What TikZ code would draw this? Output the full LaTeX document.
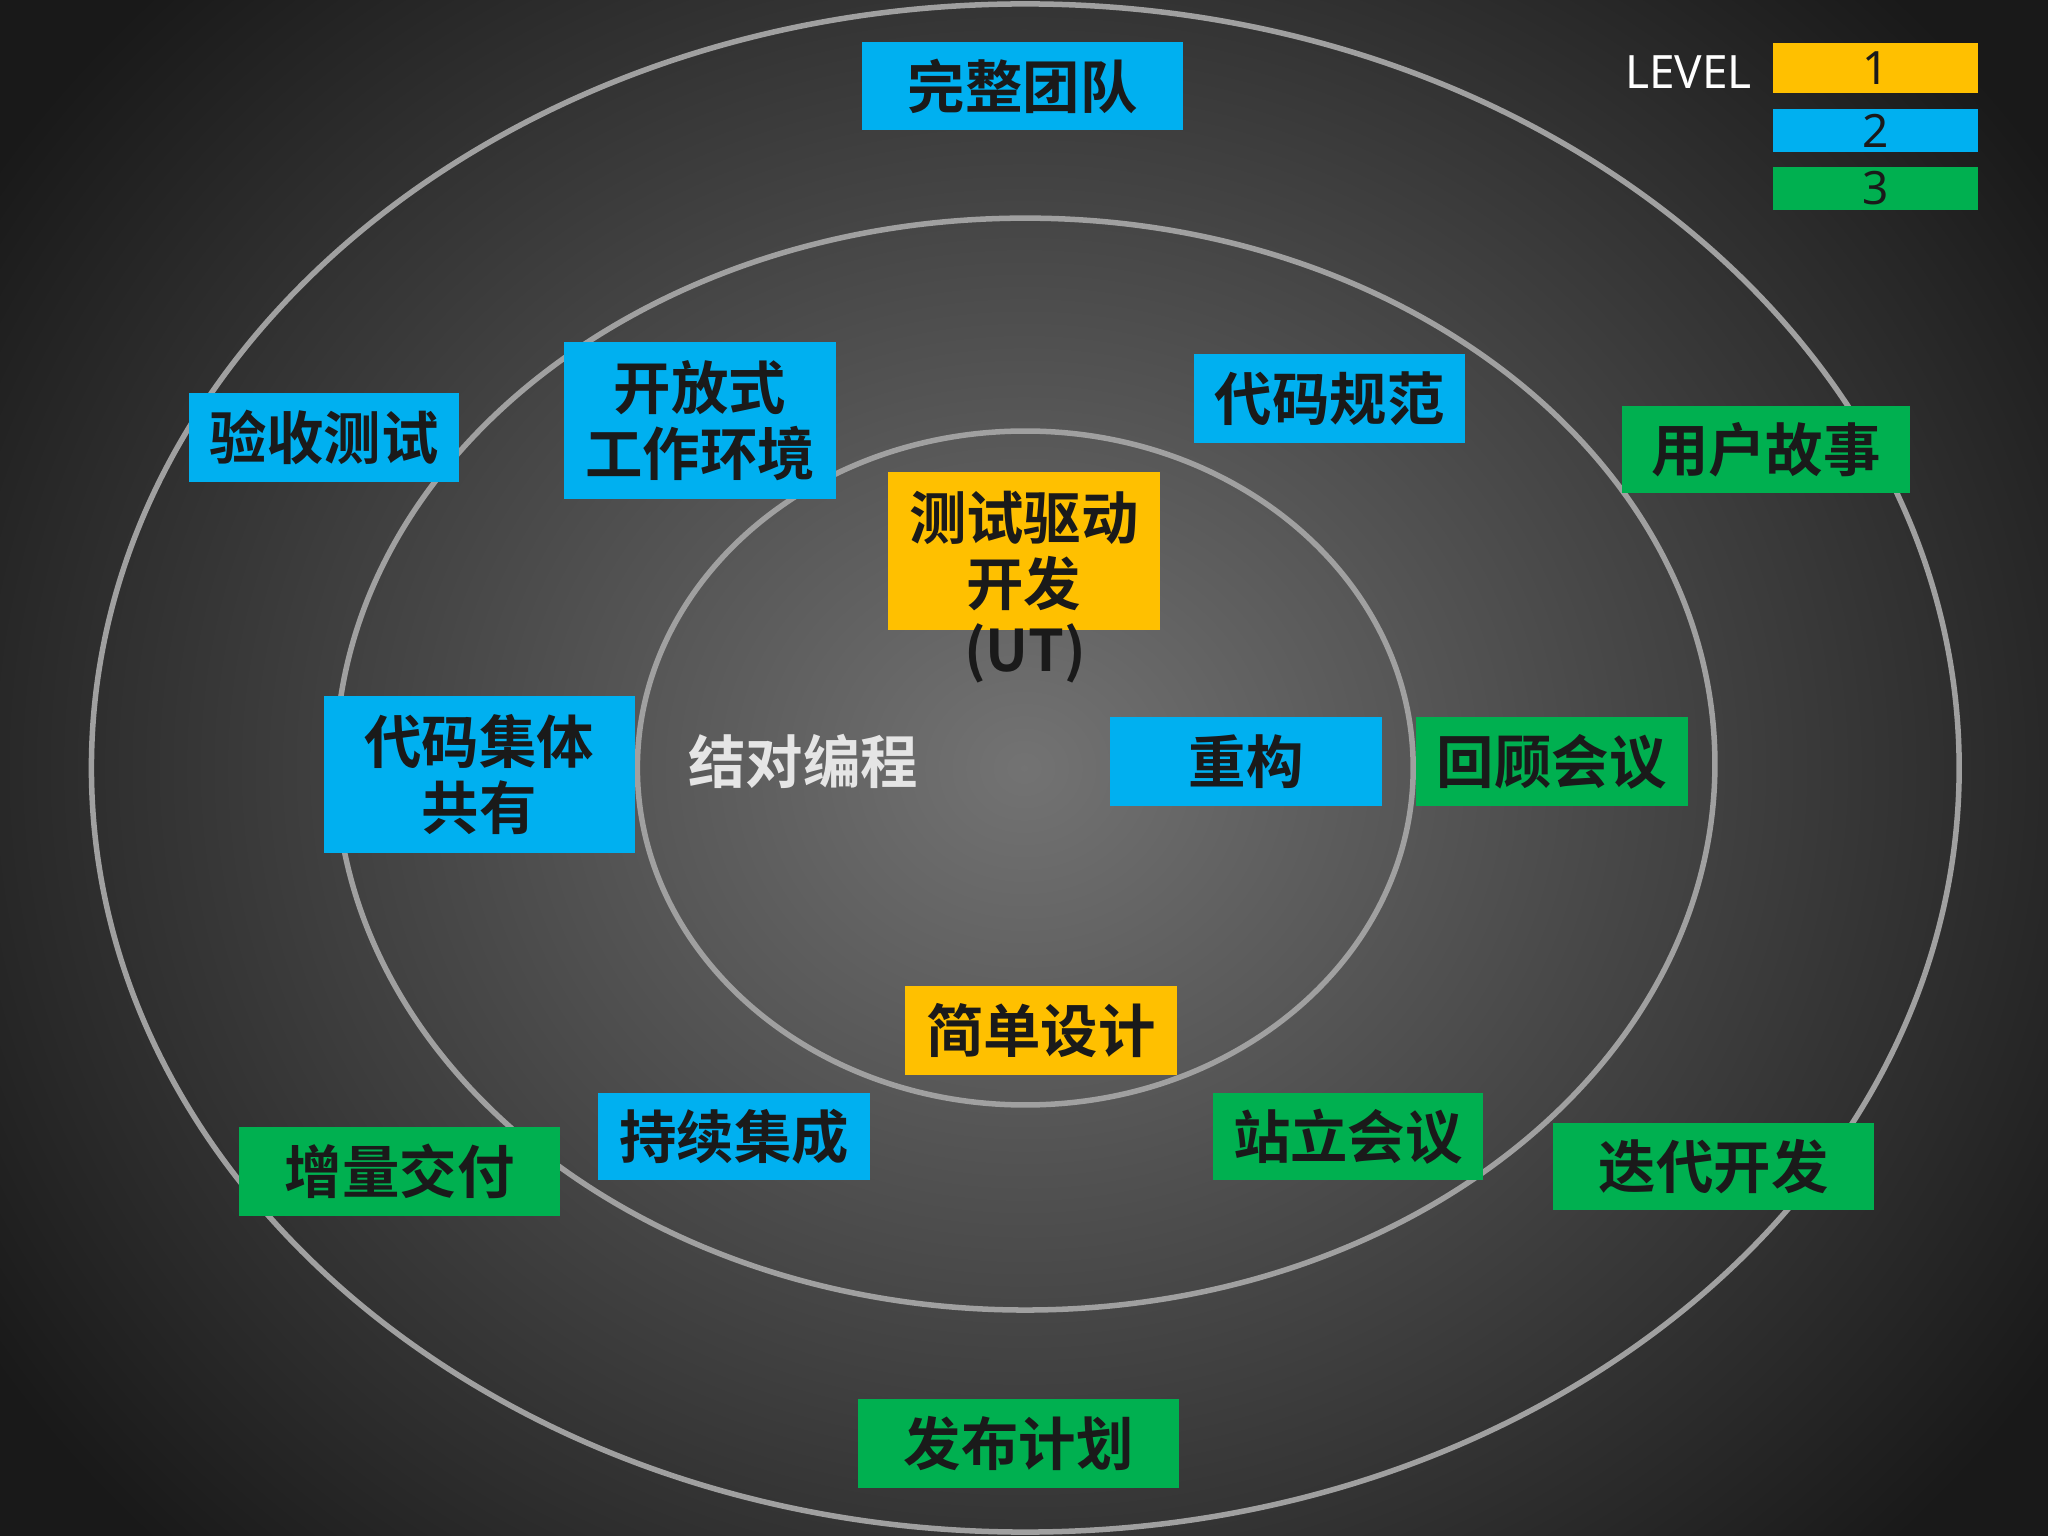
\documentclass[tikz,border=0pt]{standalone}
\usepackage{fontspec}
\setmainfont{Noto Sans}
\newfontfamily\cjk{Noto Sans CJK SC Bold}
\definecolor{lblue}{HTML}{00B0F0}
\definecolor{lorange}{HTML}{FFC000}
\definecolor{lgreen}{HTML}{00B050}
\definecolor{ring}{HTML}{A0A0A0}
\definecolor{txt}{HTML}{1A1A1A}
\newdimen\pxu \pxu=0.01cm
\begin{document}
\begin{tikzpicture}[x=0.01cm,y=-0.01cm,
  box/.style={inner sep=0pt,align=center,text=txt,font=\cjk\fontsize{12.5}{14.5}\selectfont},
  ringline/.style={draw=ring,line width=1.2pt},
  leg/.style={inner sep=0pt,text=txt,font=\fontsize{10}{12}\selectfont}]
\useasboundingbox (0,0) rectangle (1568,1176);
\begin{scope}
\clip (0,0) rectangle (1568,1176);
\shade[inner color=black!55,outer color=black!90] (-150,-250) rectangle (1718,1426);
\end{scope}
\draw[ringline] (785,588) ellipse [x radius=715,y radius=585];
\draw[ringline] (785,585) ellipse [x radius=528,y radius=418];
\draw[ringline] (785,588) ellipse [x radius=297,y radius=258];
\newcommand\bx[6]{\node[box,fill=#1,minimum width=#4\pxu,minimum height=#5\pxu] (#6) at (#2,#3) {};}
\bx{lblue}{783}{66}{246}{67}{n1}\node[box] at (n1) {完整团队};
\bx{lblue}{248}{335}{207}{68}{n2}\node[box] at (n2) {验收测试};
\bx{lblue}{536}{322}{208}{120}{n3}\node[box] at (n3) {开放式\\工作环境};
\bx{lblue}{1018}{305}{208}{68}{n4}\node[box] at (n4) {代码规范};
\bx{lgreen}{1352}{344}{221}{67}{n5}\node[box] at (n5) {用户故事};
\bx{lorange}{784}{422}{208}{121}{n6}\node[box] at (n6) {测试驱动\\开发};
\node[box] (ut) at (785,500) {(UT)};
\bx{lblue}{367}{593}{238}{120}{n7}\node[box] at (n7) {代码集体\\共有};
\node[box,text=white!90!black] (n8) at (615,583) {结对编程};
\bx{lblue}{954}{583}{208}{68}{n9}\node[box] at (n9) {重构};
\bx{lgreen}{1188}{583}{208}{68}{n10}\node[box] at (n10) {回顾会议};
\bx{lorange}{797}{789}{208}{68}{n11}\node[box] at (n11) {简单设计};
\bx{lblue}{562}{870}{208}{67}{n12}\node[box] at (n12) {持续集成};
\bx{lgreen}{306}{897}{246}{68}{n13}\node[box] at (n13) {增量交付};
\bx{lgreen}{1032}{870}{207}{67}{n14}\node[box] at (n14) {站立会议};
\bx{lgreen}{1312}{893}{246}{67}{n15}\node[box] at (n15) {迭代开发};
\bx{lgreen}{780}{1105}{246}{68}{n16}\node[box] at (n16) {发布计划};
\node[leg,text=white,anchor=east] (lv) at (1342,55) {LEVEL};
\node[leg,fill=lorange,minimum width=157\pxu,minimum height=38\pxu] (l1) at (1436,52) {1};
\node[leg,fill=lblue,minimum width=157\pxu,minimum height=33\pxu] (l2) at (1436,100) {2};
\node[leg,fill=lgreen,minimum width=157\pxu,minimum height=33\pxu] (l3) at (1436,144) {3};
\end{tikzpicture}
\end{document}
